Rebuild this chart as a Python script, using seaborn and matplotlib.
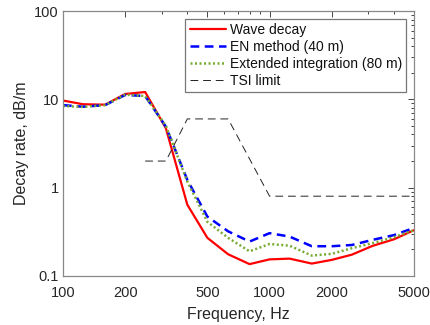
import numpy as np
import pandas as pd
import matplotlib
matplotlib.use("Agg")
import matplotlib.pyplot as plt
import seaborn as sns
from matplotlib.ticker import FixedLocator, NullFormatter, LogLocator

sns.set_theme(style="white")
plt.rcParams['font.family'] = ['Liberation Sans', 'DejaVu Sans']

freqs = [100, 125, 160, 200, 250, 315, 400, 500, 630, 800, 1000, 1250, 1600, 2000, 2500, 3150, 4000, 5000]
wave_decay = [9.7, 8.8, 8.7, 11.5, 12.1, 4.7, 0.64, 0.27, 0.176, 0.136, 0.154, 0.157, 0.138, 0.152, 0.174, 0.219, 0.26, 0.33]
en_method = [8.6, 8.25, 8.6, 11.2, 10.9, 4.9, 1.22, 0.47, 0.32, 0.245, 0.305, 0.279, 0.217, 0.217, 0.224, 0.256, 0.29, 0.35]
extended = [8.4, 8.2, 8.6, 11.3, 10.9, 5.0, 1.17, 0.41, 0.27, 0.19, 0.23, 0.22, 0.17, 0.178, 0.206, 0.235, 0.275, 0.33]
tsi_freqs = [250, 315, 400, 630, 1000, 5000]
tsi_limit = [2, 2, 6, 6, 0.8, 0.8]

df = pd.DataFrame({"freq": freqs, "wave": wave_decay, "en": en_method, "ext": extended})
tsi = pd.DataFrame({"freq": tsi_freqs, "tsi": tsi_limit})

fig = plt.figure(figsize=(4.31, 3.25), dpi=100)
ax = fig.add_axes([0.146, 0.151, 0.8146, 0.815])

sns.lineplot(data=df, x="freq", y="wave", ax=ax, color="#ff0000", lw=1.6, label="Wave decay")
sns.lineplot(data=df, x="freq", y="en", ax=ax, color="#0000ff", lw=1.8, linestyle=(0, (3.5, 2.2)), label="EN method (40 m)")
sns.lineplot(data=df, x="freq", y="ext", ax=ax, color="#77ac30", lw=1.8, linestyle=(0, (0.8, 1.0)), label="Extended integration (80 m)")
sns.lineplot(data=tsi, x="freq", y="tsi", ax=ax, color="#222222", lw=0.7, linestyle=(0, (8, 5)), label="TSI limit")

ax.set_xscale("log")
ax.set_yscale("log")
ax.set_xlim(100, 5000)
ax.set_ylim(0.1, 100)

ax.xaxis.set_major_locator(FixedLocator([100, 200, 500, 1000, 2000, 5000]))
ax.xaxis.set_minor_locator(FixedLocator([300, 400, 600, 700, 800, 900, 3000, 4000]))
ax.xaxis.set_minor_formatter(NullFormatter())
ax.set_xticklabels(["100", "200", "500", "1000", "2000", "5000"])
ax.yaxis.set_major_locator(FixedLocator([0.1, 1, 10, 100]))
ax.yaxis.set_minor_locator(LogLocator(base=10, subs=np.arange(2, 10)))
ax.yaxis.set_minor_formatter(NullFormatter())
ax.set_yticklabels(["0.1", "1", "10", "100"])

ax.tick_params(which="both", direction="in", top=True, right=True, color="#262626",
               labelsize=10.5, labelcolor="#262626")
ax.tick_params(axis="x", which="major", pad=7)
ax.tick_params(axis="y", which="major", pad=3)
ax.tick_params(which="major", length=4, width=0.6)
ax.tick_params(which="minor", length=2.5, width=0.6)
for s in ax.spines.values():
    s.set_color("#888888")
    s.set_linewidth(0.9)

ax.set_xlabel("Frequency, Hz", fontsize=11.5, color="#262626", labelpad=5)
ax.set_ylabel("Decay rate, dB/m", fontsize=11.5, color="#262626", labelpad=4)

leg = ax.legend(loc="upper right", bbox_to_anchor=(0.99, 0.985), fontsize=10, frameon=True,
                fancybox=False, edgecolor="#555555", handlelength=2.6, handletextpad=0.3,
                labelspacing=0.2, borderpad=0.3, borderaxespad=0.3)
leg.get_frame().set_linewidth(0.9)
for t in leg.get_texts():
    t.set_color("#111111")

fig.savefig("out.png", dpi=100)
